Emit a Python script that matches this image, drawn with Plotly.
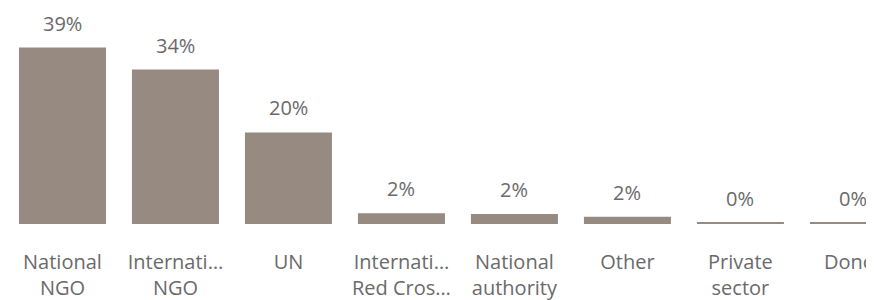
import plotly.graph_objects as go

categories = ["National<br>NGO", "Internati…<br>NGO", "UN", "Internati…<br>Red Cros…",
              "National<br>authority", "Other", "Private<br>sector", "Donor"]
values = [39.3, 34.4, 20.4, 2.4, 2.2, 1.6, 0.3, 0.3]
labels = [f"{round(v)}%" for v in values]

BAR = "#978a80"
TXT = "#6a6a6a"
FONT = "Open Sans"

fig = go.Figure(go.Bar(x=list(range(len(categories))), y=values, marker_color=BAR,
                       marker_line_width=0, width=0.77, hoverinfo="skip"))

for i, (v, t) in enumerate(zip(values, labels)):
    fig.add_annotation(x=i, y=v, text=t, showarrow=False, yanchor="bottom",
                       yshift=9, font=dict(family=FONT, size=20, color=TXT))

fig.update_layout(
    width=874, height=300,
    margin=dict(l=0, r=0, t=14, b=84),
    paper_bgcolor="white", plot_bgcolor="white",
    showlegend=False,
    xaxis=dict(tickmode="array", tickvals=list(range(len(categories))), ticktext=categories,
               range=[-0.482, 7.253], showgrid=False, zeroline=False, showline=False,
               automargin=False, ticklabeloverflow="allow",
               ticks="outside", ticklen=20, tickcolor="rgba(0,0,0,0)",
               tickfont=dict(family=FONT, size=20, color=TXT)),
    yaxis=dict(range=[0, 45.0], visible=False, automargin=False),
)

fig.write_html("out.html")
